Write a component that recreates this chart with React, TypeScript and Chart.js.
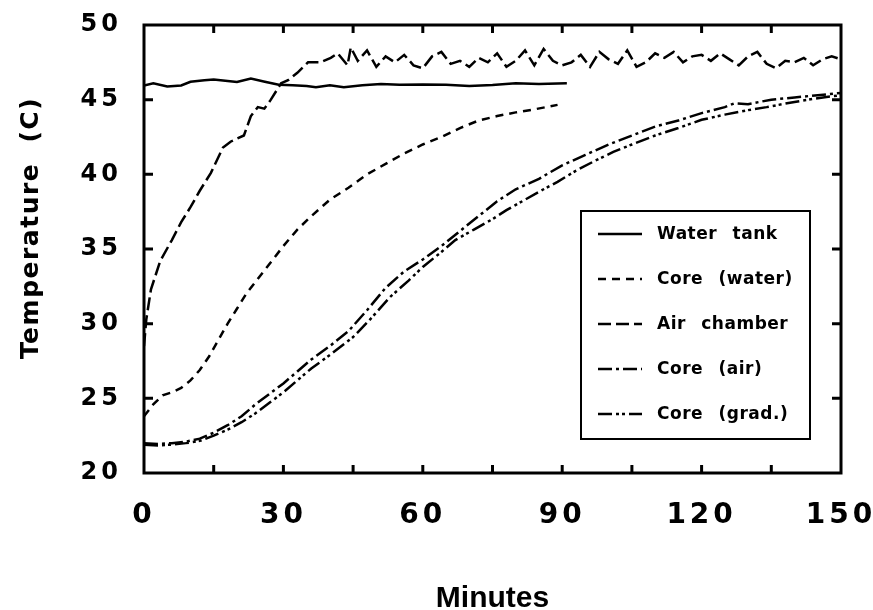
import React, { useEffect, useRef } from "react";
import { Chart, registerables } from "chart.js";

Chart.register(...registerables);

// ---- Data (minutes, °C) ----
const waterTankTime = [0, 2, 5, 8, 10, 13, 15, 18, 20, 23, 26, 29, 32, 35, 37, 40, 43, 47, 51, 55, 60, 65, 70, 75, 80, 85, 91];
const waterTankTemp = [45.95, 46.1, 45.88, 45.95, 46.2, 46.3, 46.35, 46.25, 46.18, 46.42, 46.2, 46.0, 45.97, 45.92, 45.83, 45.96, 45.84, 45.96, 46.05, 46.0, 46.02, 46.0, 45.92, 45.98, 46.1, 46.05, 46.1];

const coreWaterTime = [0, 2, 4, 6, 8, 10, 12, 14, 16, 18, 20, 22, 24, 26, 28, 30, 33, 36, 40, 44, 48, 52, 56, 60, 64, 68, 72, 76, 80, 84, 89];
const coreWaterTemp = [23.8, 24.6, 25.2, 25.4, 25.7, 26.2, 26.9, 27.8, 28.9, 30.0, 31.0, 32.0, 32.8, 33.6, 34.4, 35.2, 36.3, 37.2, 38.3, 39.1, 40.0, 40.7, 41.4, 42.0, 42.5, 43.1, 43.6, 43.9, 44.15, 44.35, 44.65];

const airChamberTime = [0, 0.5, 1.5, 3.5, 6, 8, 10, 12, 14.4, 17, 18.7, 21.5, 23, 24.5, 25.9, 27.3, 29.5, 31, 33, 35.3, 38, 40.2, 41.7, 43.8, 44.5,
  46, 48, 50, 52, 54, 56, 58, 60, 62, 64, 66, 68, 70, 72, 74, 76, 78, 80, 82, 84, 86, 88, 90, 92, 94, 96, 98, 100,
  102, 104, 106, 108, 110, 112, 114, 116, 118, 120, 122, 124, 126, 128, 130, 132, 134, 136, 138, 140, 142, 144, 146, 148, 150];
const airChamberTemp = [28.5, 30.3, 32.3, 34.2, 35.6, 36.8, 37.8, 38.9, 40.1, 41.8, 42.2, 42.6, 43.9, 44.5, 44.4, 45.0, 46.1, 46.3, 46.8, 47.5, 47.5, 47.8, 48.1, 47.3, 48.5,
  47.6, 48.3, 47.2, 47.9, 47.5, 48.0, 47.3, 47.1, 47.9, 48.2, 47.4, 47.6, 47.2, 47.8, 47.5, 48.1, 47.2, 47.6, 48.3, 47.3, 48.4, 47.6, 47.3, 47.5, 48.0, 47.2, 48.2, 47.7,
  47.4, 48.3, 47.2, 47.5, 48.1, 47.8, 48.2, 47.5, 47.9, 48.0, 47.6, 48.1, 47.7, 47.3, 47.9, 48.2, 47.4, 47.1, 47.6, 47.5, 47.8, 47.3, 47.7, 47.9, 47.7];

const coreAirTime = [0, 3, 6, 9, 12, 15, 18, 21, 24, 27, 30, 33, 36, 40, 44, 48, 52, 56, 60, 64, 68, 72, 76, 80, 85, 90, 95, 100, 105, 110, 115, 120, 125, 127, 130, 135, 140, 145, 150];
const coreAirTemp = [22.0, 21.95, 22.0, 22.1, 22.3, 22.7, 23.2, 23.8, 24.6, 25.3, 26.0, 26.8, 27.6, 28.5, 29.5, 30.9, 32.4, 33.5, 34.3, 35.2, 36.2, 37.2, 38.2, 39.0, 39.7, 40.6, 41.3, 42.0, 42.6, 43.2, 43.6, 44.1, 44.5, 44.75, 44.7, 45.0, 45.15, 45.3, 45.45];

const coreGradTime = [0, 3, 6, 9, 12, 15, 18, 21, 24, 27, 30, 33, 36, 40, 45, 49, 53, 57, 60, 64, 67, 71, 75, 78, 82, 86, 89, 93, 97, 101, 105, 110, 115, 120, 125, 130, 134, 140, 145, 150];
const coreGradTemp = [21.9, 21.85, 21.9, 22.0, 22.15, 22.5, 22.9, 23.4, 24.0, 24.7, 25.4, 26.2, 27.0, 27.9, 29.1, 30.4, 31.8, 32.9, 33.8, 34.8, 35.6, 36.3, 37.0, 37.6, 38.3, 39.0, 39.5, 40.25, 40.9, 41.5, 42.0, 42.6, 43.1, 43.65, 44.0, 44.3, 44.5, 44.85, 45.1, 45.3];

const seriesNames = ["Water tank", "Core (water)", "Air chamber", "Core (air)", "Core (grad.)"];
const seriesDashes = [[], [8, 6], [13, 5], [14, 4, 3, 4], [14, 4, 3, 3, 3, 4]];

const xTickLabels = [0, 30, 60, 90, 120, 150];
const xTickMarks = [15, 30, 45, 60, 75, 90, 105, 120, 135];
const yTickLabels = [20, 25, 30, 35, 40, 45, 50];
const yTickMarks = [25, 30, 35, 40, 45];

const xTitle = "Minutes";
const yTitle = "Temperature (C)";

const toPoints = (xs: number[], ys: number[]) => xs.map((x, i) => ({ x, y: ys[i] }));

const seriesData = [
  toPoints(waterTankTime, waterTankTemp),
  toPoints(coreWaterTime, coreWaterTemp),
  toPoints(airChamberTime, airChamberTemp),
  toPoints(coreAirTime, coreAirTemp),
  toPoints(coreGradTime, coreGradTemp),
];

const tickSpacingPlugin = {
  id: "tickSpacing",
  beforeDraw(chart: any) {
    (chart.ctx as any).letterSpacing = "4px";
  },
  beforeDatasetsDraw(chart: any) {
    (chart.ctx as any).letterSpacing = "0px";
  },
};

const framePlugin = {
  id: "frameLegendTitles",
  afterDraw(chart: any) {
    const { ctx, chartArea: a, scales } = chart;
    ctx.save();
    ctx.letterSpacing = "0px";
    ctx.strokeStyle = "#000";
    ctx.fillStyle = "#000";
    ctx.setLineDash([]);
    ctx.lineWidth = 3;
    ctx.strokeRect(a.left, a.top, a.right - a.left, a.bottom - a.top);
    ctx.beginPath();
    for (const v of xTickMarks) {
      const px = scales.x.getPixelForValue(v);
      ctx.moveTo(px, a.bottom);
      ctx.lineTo(px, a.bottom - 8);
      ctx.moveTo(px, a.top);
      ctx.lineTo(px, a.top + 8);
    }
    for (const v of yTickMarks) {
      const py = scales.y.getPixelForValue(v);
      ctx.moveTo(a.left, py);
      ctx.lineTo(a.left + 9, py);
      ctx.moveTo(a.right, py);
      ctx.lineTo(a.right - 9, py);
    }
    ctx.stroke();

    // Legend box
    const bx = 581, by = 211, bw = 229, bh = 228;
    ctx.fillStyle = "#fff";
    ctx.fillRect(bx, by, bw, bh);
    ctx.lineWidth = 2;
    ctx.strokeRect(bx, by, bw, bh);
    ctx.fillStyle = "#000";
    ctx.font = "bold 17px 'DejaVu Sans', sans-serif";
    ctx.textBaseline = "middle";
    ctx.textAlign = "left";
    ctx.letterSpacing = "0.5px";
    (ctx as any).wordSpacing = "9px";
    seriesNames.forEach((name, i) => {
      const y = 234 + i * 45;
      ctx.lineWidth = 2.5;
      ctx.setLineDash(seriesDashes[i]);
      ctx.beginPath();
      ctx.moveTo(598, y);
      ctx.lineTo(642, y);
      ctx.stroke();
      ctx.setLineDash([]);
      ctx.fillText(name, 657, y + 1);
    });

    // Axis titles
    ctx.letterSpacing = "0px";
    (ctx as any).wordSpacing = "0px";
    ctx.font = "bold 30px 'Liberation Sans', Arial, sans-serif";
    ctx.textAlign = "center";
    ctx.textBaseline = "alphabetic";
    ctx.fillText(xTitle, (a.left + a.right) / 2, 607);

    ctx.translate(38, 228);
    ctx.rotate(-Math.PI / 2);
    ctx.font = "bold 25px 'DejaVu Sans', sans-serif";
    ctx.letterSpacing = "1.5px";
    (ctx as any).wordSpacing = "10px";
    ctx.fillText(yTitle, 0, 0);
    ctx.restore();
  },
};

export default function App() {
  const canvasRef = useRef<HTMLCanvasElement | null>(null);

  useEffect(() => {
    if (!canvasRef.current) return;
    const chart = new Chart(canvasRef.current, {
      type: "line",
      data: {
        datasets: seriesData.map((d, i) => ({
          label: seriesNames[i],
          data: d,
          borderColor: "#000",
          backgroundColor: "#000",
          borderWidth: 2.5,
          borderDash: seriesDashes[i],
          pointRadius: 0,
          tension: 0,
          fill: false,
        })),
      },
      options: {
        animation: false,
        responsive: true,
        maintainAspectRatio: false,
        layout: { padding: { left: 0, top: 25, right: 32, bottom: 0 } },
        plugins: {
          legend: { display: false },
          tooltip: { enabled: false },
          title: { display: false },
        },
        scales: {
          x: {
            type: "linear",
            min: 0,
            max: 150,
            afterBuildTicks: (s: any) => {
              s.ticks = xTickLabels.map((v) => ({ value: v }));
            },
            grid: { display: false, drawTicks: false },
            border: { display: false },
            ticks: {
              padding: 26,
              color: "#000",
              maxRotation: 0,
              autoSkip: false,
              font: { family: "'DejaVu Sans', sans-serif", weight: "bold", size: 28 },
            },
            afterFit: (s: any) => {
              s.height = 137;
              s.paddingLeft = 0;
              s.paddingRight = 0;
            },
          },
          y: {
            type: "linear",
            min: 20,
            max: 50,
            afterBuildTicks: (s: any) => {
              s.ticks = yTickLabels.map((v) => ({ value: v }));
            },
            grid: { display: false, drawTicks: false },
            border: { display: false },
            ticks: {
              padding: 22,
              color: "#000",
              font: { family: "'DejaVu Sans', sans-serif", weight: "bold", size: 24 },
            },
            afterFit: (s: any) => {
              s.width = 144;
              s.paddingTop = 0;
              s.paddingBottom = 0;
            },
          },
        },
      },
      plugins: [tickSpacingPlugin, framePlugin],
    } as any);
    return () => chart.destroy();
  }, []);

  return (
    <div style={{ position: "fixed", left: 0, top: 0, width: 873, height: 610, background: "#fff" }}>
      <canvas ref={canvasRef} />
    </div>
  );
}
